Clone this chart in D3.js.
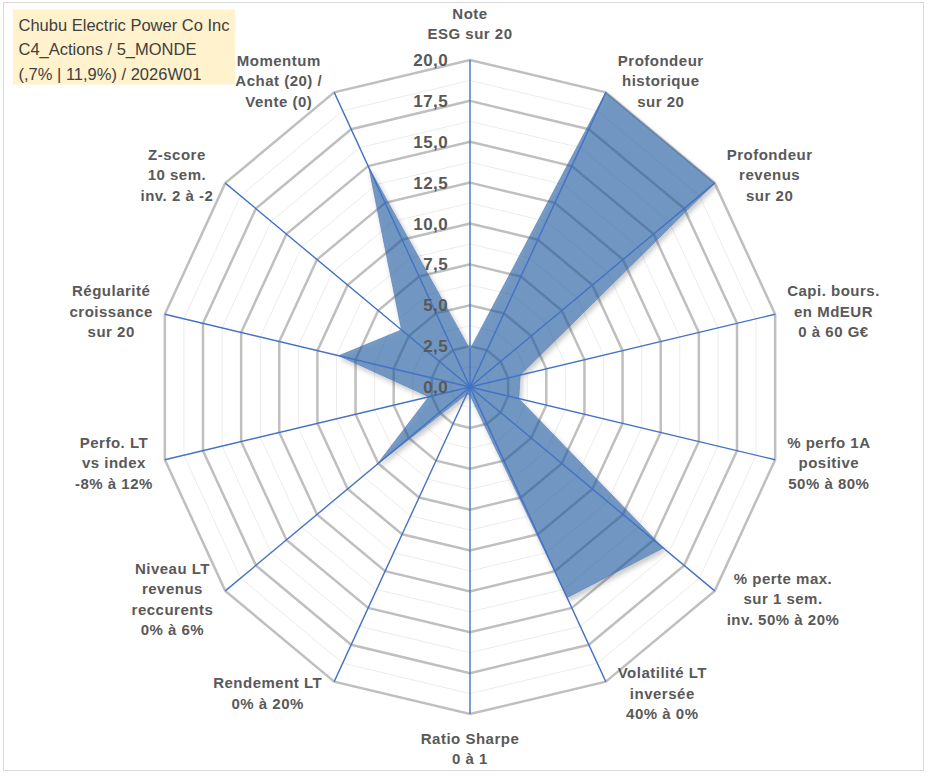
<!DOCTYPE html>
<html>
<head>
<meta charset="utf-8">
<script src="https://cdn.jsdelivr.net/npm/d3@7"></script>
<style>
  body { margin: 0; background: #fff; }
  svg { display: block; }
</style>
</head>
<body>
<script>
// chart data
const axisLabels = [
    ["Note", "ESG sur 20"],
    ["Profondeur", "historique", "sur 20"],
    ["Profondeur", "revenus", "sur 20"],
    ["Capi. bours.", "en MdEUR", "0 à 60 G€"],
    ["% perfo 1A", "positive", "50% à 80%"],
    ["% perte max.", "sur 1 sem.", "inv. 50% à 20%"],
    ["Volatilité LT", "inversée", "40% à 0%"],
    ["Ratio Sharpe", "0 à 1"],
    ["Rendement LT", "0% à 20%"],
    ["Niveau LT", "revenus", "reccurents", "0% à 6%"],
    ["Perfo. LT", "vs index", "-8% à 12%"],
    ["Régularité", "croissance", "sur 20"],
    ["Z-score", "10 sem.", "inv. 2 à -2"],
    ["Momentum", "Achat (20) /", "Vente (0)"]
];
const values = [2.3, 20, 20, 3.3, 3.2, 15.8, 14.3, 0.5, 0.5, 7.6, 2.7, 8.6, 5.6, 14.9];
const tickValues = [0, 2.5, 5, 7.5, 10, 12.5, 15, 17.5, 20];
const tickLabels = ["0,0", "2,5", "5,0", "7,5", "10,0", "12,5", "15,0", "17,5", "20,0"];
const minorValues = [1.25, 3.75, 6.25, 8.75, 11.25, 13.75, 16.25, 18.75];
const titleLines = ["Chubu Electric Power Co Inc", "C4_Actions / 5_MONDE", "(,7% | 11,9%) / 2026W01"];

const width = 933, height = 776;
const cx = 470, cy = 387;

const rx = d3.scaleLinear().domain([0, 20]).range([0, 313]);
const ry = d3.scaleLinear().domain([0, 20]).range([0, 327]);
const angle = d3.scaleLinear().domain([0, axisLabels.length]).range([0, 2 * Math.PI]);

function pt(i, v) {
    let a = angle(i);
    return [cx + Math.sin(a) * rx(v), cy - Math.cos(a) * ry(v)];
}

function ring(v) {
    return axisLabels.map((d, i) => pt(i, v));
}

const svg = d3.select("body").append("svg")
    .attr("width", width)
    .attr("height", height);

// shadow drawn only outside the shape so the see-through fill stays light
const defs = svg.append("defs");
const shadow = defs.append("filter").attr("id", "shadow")
    .attr("x", "-10%").attr("y", "-10%").attr("width", "130%").attr("height", "130%");
shadow.append("feGaussianBlur").attr("in", "SourceAlpha").attr("stdDeviation", 2.5).attr("result", "blur");
shadow.append("feOffset").attr("in", "blur").attr("dx", 2).attr("dy", 3).attr("result", "off");
shadow.append("feComposite").attr("in", "off").attr("in2", "SourceAlpha").attr("operator", "out").attr("result", "outer");
shadow.append("feColorMatrix").attr("in", "outer").attr("type", "matrix")
    .attr("values", "0 0 0 0 0  0 0 0 0 0  0 0 0 0 0  0 0 0 0.35 0").attr("result", "shade");
const merge = shadow.append("feMerge");
merge.append("feMergeNode").attr("in", "shade");
merge.append("feMergeNode").attr("in", "SourceGraphic");

// chart border
svg.append("rect")
    .attr("x", 3.5).attr("y", 2.5)
    .attr("width", 920).attr("height", 768)
    .attr("fill", "none")
    .attr("stroke", "#d9d9d9")
    .attr("stroke-width", 1);

const line = d3.line().curve(d3.curveLinearClosed);

// minor grid
svg.append("g").selectAll("path")
    .data(minorValues)
    .enter().append("path")
    .attr("d", v => line(ring(v)))
    .attr("fill", "none")
    .attr("stroke", "#ececec")
    .attr("stroke-width", 1);

// major grid
svg.append("g").selectAll("path")
    .data(tickValues.slice(1))
    .enter().append("path")
    .attr("d", v => line(ring(v)))
    .attr("fill", "none")
    .attr("stroke", "#bfbfbf")
    .attr("stroke-width", 2.5);

// series
svg.append("path")
    .datum(values.map((v, i) => pt(i, v)))
    .attr("d", line)
    .attr("fill", "rgb(33,92,160)")
    .attr("fill-opacity", 0.6)
    .attr("stroke", "rgb(80,120,175)")
    .attr("stroke-opacity", 0.6)
    .attr("stroke-width", 1)
    .attr("filter", "url(#shadow)");

// spokes
svg.append("g").selectAll("line")
    .data(axisLabels)
    .enter().append("line")
    .attr("x1", cx).attr("y1", cy)
    .attr("x2", (d, i) => pt(i, 20)[0])
    .attr("y2", (d, i) => pt(i, 20)[1])
    .attr("stroke", "#4472c4")
    .attr("stroke-width", 1.4);

// radial tick labels
svg.append("g").selectAll("text")
    .data(tickValues)
    .enter().append("text")
    .attr("x", cx - 22)
    .attr("y", v => cy - ry(v))
    .attr("dy", "0.36em")
    .attr("text-anchor", "end")
    .attr("font-family", "Liberation Sans, Arial, sans-serif")
    .attr("font-weight", "bold")
    .attr("font-size", 17)
    .attr("letter-spacing", 0.4)
    .attr("fill", "#595959")
    .text((v, i) => tickLabels[i]);

// axis labels
const lineH = 20.5;
const labelG = svg.append("g")
    .attr("font-family", "Liberation Sans, Arial, sans-serif")
    .attr("font-weight", "bold")
    .attr("font-size", 15)
    .attr("letter-spacing", 0.5)
    .attr("fill", "#595959");

axisLabels.forEach((lines, i) => {
    let a = angle(i);
    let [vx, vy] = pt(i, 20);
    let t = labelG.append("text").attr("text-anchor", "middle");
    lines.forEach(s => t.append("tspan").text(s));
    let w = d3.max(t.selectAll("tspan").nodes(), n => n.getComputedTextLength());
    let h = lines.length * lineH;
    let s = Math.sin(a);
    let x, y;
    if (Math.abs(s) < 0.1) {
        x = vx;
        y = Math.cos(a) > 0 ? vy - h / 2 - 16 : vy + h / 2 + 14;
    } else {
        x = vx + Math.sign(s) * (w / 2 + 12);
        y = vy - Math.cos(a) * 13;
    }
    t.selectAll("tspan")
        .attr("x", x)
        .attr("y", (d, k) => y + (k - (lines.length - 1) / 2) * lineH)
        .attr("dy", "0.36em");
});

// title box
svg.append("rect")
    .attr("x", 13).attr("y", 9.5)
    .attr("width", 222).attr("height", 75)
    .attr("fill", "#fff2cc");

svg.append("g").selectAll("text")
    .data(titleLines)
    .enter().append("text")
    .attr("x", 18.5)
    .attr("y", (d, i) => 25 + i * 24.5)
    .attr("dy", "0.36em")
    .attr("font-family", "Liberation Sans, Arial, sans-serif")
    .attr("font-size", 16.5)
    .attr("fill", "#404040")
    .text(d => d);
</script>
</body>
</html>
